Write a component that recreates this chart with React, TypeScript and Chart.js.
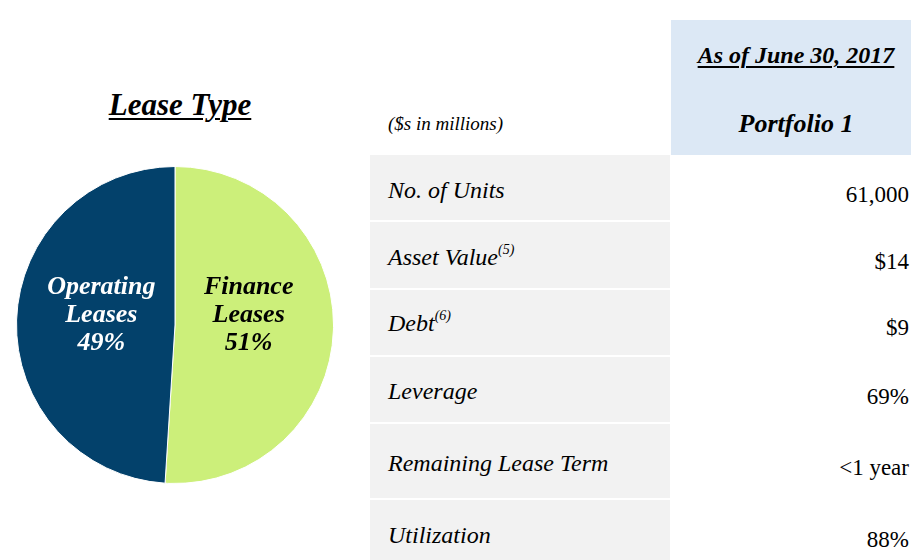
import React, { useEffect, useRef } from "react";
import { Chart, registerables } from "chart.js";

Chart.register(...registerables);

// ---- data ----
const leaseLabels = ["Finance Leases", "Operating Leases"];
const leaseValues = [51, 49];
const leaseColors = ["#CCEF7A", "#03416B"];
const leaseTextColors = ["#000000", "#FFFFFF"];

const chartTitle = "Lease Type";
const tableNote = "($s in millions)";
const tableHeaderDate = "As of June 30, 2017";
const tableHeaderColumn = "Portfolio 1";
const rowLabels = ["No. of Units", "Asset Value", "Debt", "Leverage", "Remaining Lease Term", "Utilization"];
const rowNotes = ["", "(5)", "(6)", "", "", ""];
const rowValues = ["61,000", "$14", "$9", "69%", "<1 year", "88%"];

// ---- layout (styles only) ----
const FONT = '"Liberation Serif", "Times New Roman", serif';
const rowTops = [155, 222, 290, 357, 424, 500];
const rowHeights = [65, 66, 65, 65, 74, 60];
const labelCenters = [190, 257, 323, 391, 463, 535];
const valueCenters = [195, 262, 328, 397, 468, 540];

const pieLabelPlugin = {
  id: "pieLabels",
  afterDatasetsDraw(chart: any) {
    const ctx = chart.ctx;
    const meta = chart.getDatasetMeta(0);
    const data = chart.data.datasets[0].data as number[];
    const total = data.reduce((a, b) => a + b, 0);
    meta.data.forEach((arc: any, i: number) => {
      const p = arc.getProps(["x", "y", "startAngle", "endAngle", "outerRadius"], true);
      const mid = (p.startAngle + p.endAngle) / 2;
      const r = p.outerRadius * 0.465;
      const cx = p.x + Math.cos(mid) * r;
      const cy = p.y - 10;
      const words = String(chart.data.labels[i]).split(" ");
      const pct = Math.round((data[i] / total) * 100) + "%";
      const lines = [...words, pct];
      ctx.save();
      ctx.font = `italic bold 26px ${FONT}`;
      ctx.fillStyle = leaseTextColors[i];
      ctx.textAlign = "center";
      ctx.textBaseline = "middle";
      const lh = 28;
      lines.forEach((ln, k) => {
        ctx.fillText(ln, cx, cy + (k - (lines.length - 1) / 2) * lh);
      });
      ctx.restore();
    });
  },
};

function PieChart() {
  const ref = useRef<HTMLCanvasElement>(null);
  useEffect(() => {
    if (!ref.current) return;
    const chart = new Chart(ref.current, {
      type: "pie",
      data: {
        labels: leaseLabels,
        datasets: [
          {
            data: leaseValues,
            backgroundColor: leaseColors,
            borderColor: "#FFFFFF",
            borderWidth: 1,
          },
        ],
      },
      options: {
        animation: false,
        responsive: false,
        maintainAspectRatio: false,
        layout: { padding: 0 },
        plugins: {
          legend: { display: false },
          tooltip: { enabled: false },
          title: { display: false },
        },
      },
      plugins: [pieLabelPlugin],
    });
    return () => chart.destroy();
  }, []);
  return (
    <canvas
      ref={ref}
      width={350}
      height={318}
      style={{ position: "absolute", left: 0, top: 166, width: 350, height: 318 }}
    />
  );
}

function centered(top: number, lh: number): React.CSSProperties {
  return { position: "absolute", top: top - lh / 2, height: lh, lineHeight: `${lh}px`, whiteSpace: "nowrap" };
}

export default function App() {
  return (
    <div
      style={{
        position: "absolute",
        left: 0,
        top: 0,
        width: 911,
        height: 560,
        background: "#FFFFFF",
        overflow: "hidden",
        fontFamily: FONT,
        color: "#000",
      }}
    >
      {/* Title */}
      <div
        style={{
          ...centered(105, 36),
          left: 0,
          width: 360,
          textAlign: "center",
          fontSize: 31,
          fontWeight: "bold",
          fontStyle: "italic",
          textDecoration: "underline",
          textDecorationThickness: "2px",
          textUnderlineOffset: "3px",
        }}
      >
        {chartTitle}
      </div>

      <PieChart />

      {/* Header cell */}
      <div style={{ position: "absolute", left: 671, top: 20, width: 240, height: 135, background: "#DCE8F5" }} />
      <div
        style={{
          ...centered(55, 30),
          left: 671,
          width: 250,
          textAlign: "center",
          fontSize: 24,
          fontWeight: "bold",
          fontStyle: "italic",
          textDecoration: "underline",
          textDecorationThickness: "2px",
          textUnderlineOffset: "3px",
        }}
      >
        {tableHeaderDate}
      </div>
      <div
        style={{
          ...centered(124, 30),
          left: 671,
          width: 250,
          textAlign: "center",
          fontSize: 26,
          fontWeight: "bold",
          fontStyle: "italic",
        }}
      >
        {tableHeaderColumn}
      </div>
      <div style={{ ...centered(124, 24), left: 388, fontSize: 19, fontStyle: "italic" }}>{tableNote}</div>

      {/* Rows */}
      {rowLabels.map((lab, i) => (
        <React.Fragment key={lab}>
          <div
            style={{
              position: "absolute",
              left: 370,
              top: rowTops[i],
              width: 300,
              height: rowHeights[i],
              background: "#F2F2F2",
            }}
          />
          <div style={{ ...centered(labelCenters[i], 30), left: 388, fontSize: 24, fontStyle: "italic" }}>
            {lab}
            {rowNotes[i] ? (
              <span style={{ fontSize: 14, verticalAlign: "top", lineHeight: "20px", position: "relative", top: -2 }}>
                {rowNotes[i]}
              </span>
            ) : null}
          </div>
          <div
            style={{
              ...centered(valueCenters[i], 30),
              left: 671,
              width: 238,
              textAlign: "right",
              fontSize: 23,
            }}
          >
            {rowValues[i]}
          </div>
        </React.Fragment>
      ))}
    </div>
  );
}
